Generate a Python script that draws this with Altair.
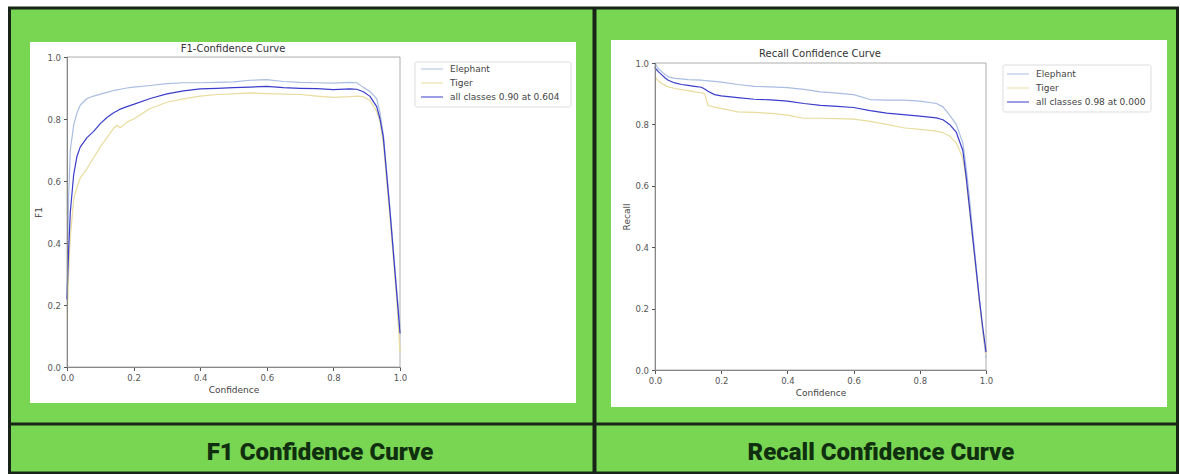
import altair as alt
import pandas as pd

# ---------------- data ----------------
conf = [0.0, 0.005, 0.01, 0.02, 0.03, 0.04, 0.06, 0.08, 0.10, 0.12, 0.14, 0.15, 0.16, 0.18, 0.20,
        0.25, 0.30, 0.35, 0.40, 0.45, 0.50, 0.55, 0.60, 0.65, 0.70, 0.75, 0.80, 0.85, 0.87, 0.89,
        0.91, 0.93, 0.94, 0.95, 0.96, 0.97, 0.98, 0.99, 1.0]

f1_elephant = [0.25, 0.55, 0.70, 0.78, 0.82, 0.845, 0.866, 0.874, 0.880, 0.886, 0.892, 0.894, 0.896,
               0.900, 0.903, 0.908, 0.914, 0.917, 0.917, 0.918, 0.920, 0.925, 0.927, 0.921, 0.918,
               0.917, 0.916, 0.918, 0.917, 0.902, 0.889, 0.865, 0.82, 0.75, 0.63, 0.51, 0.38, 0.25, 0.13]
f1_tiger = [0.15, 0.30, 0.42, 0.54, 0.58, 0.61, 0.64, 0.675, 0.71, 0.74, 0.77, 0.78, 0.772, 0.79,
            0.80, 0.834, 0.854, 0.865, 0.874, 0.879, 0.881, 0.884, 0.882, 0.880, 0.879, 0.874, 0.870,
            0.872, 0.874, 0.872, 0.86, 0.825, 0.79, 0.72, 0.60, 0.48, 0.35, 0.22, 0.05]
f1_all = [0.22, 0.38, 0.50, 0.62, 0.68, 0.71, 0.74, 0.76, 0.785, 0.805, 0.82, 0.826, 0.832, 0.84,
          0.847, 0.866, 0.881, 0.891, 0.897, 0.899, 0.901, 0.903, 0.905, 0.901, 0.899, 0.898, 0.895,
          0.897, 0.896, 0.888, 0.873, 0.84, 0.80, 0.74, 0.62, 0.50, 0.37, 0.24, 0.11]

rec_elephant = [1.0, 0.99, 0.982, 0.972, 0.963, 0.955, 0.95, 0.948, 0.946, 0.945, 0.944, 0.943, 0.942,
                0.94, 0.938, 0.93, 0.924, 0.922, 0.92, 0.914, 0.906, 0.902, 0.897, 0.881, 0.879, 0.879,
                0.876, 0.868, 0.857, 0.83, 0.80, 0.74, 0.66, 0.56, 0.45, 0.34, 0.23, 0.13, 0.04]
rec_tiger = [0.955, 0.948, 0.942, 0.933, 0.928, 0.922, 0.917, 0.913, 0.91, 0.906, 0.903, 0.9, 0.862,
             0.856, 0.852, 0.841, 0.839, 0.836, 0.83, 0.82, 0.82, 0.819, 0.817, 0.81, 0.80, 0.789,
             0.784, 0.778, 0.773, 0.762, 0.74, 0.69, 0.62, 0.52, 0.42, 0.32, 0.22, 0.13, 0.05]
rec_all = [0.985, 0.978, 0.972, 0.962, 0.952, 0.944, 0.935, 0.93, 0.927, 0.924, 0.921, 0.915, 0.908,
           0.897, 0.893, 0.887, 0.882, 0.880, 0.876, 0.868, 0.862, 0.859, 0.855, 0.845, 0.837, 0.832,
           0.827, 0.821, 0.815, 0.800, 0.775, 0.715, 0.63, 0.53, 0.43, 0.33, 0.23, 0.14, 0.06]

f1_labels = ["Elephant", "Tiger", "all classes 0.90 at 0.604"]
rec_labels = ["Elephant", "Tiger", "all classes 0.98 at 0.000"]
tick_values = [0.0, 0.2, 0.4, 0.6, 0.8, 1.0]
plot_titles = ["F1-Confidence Curve", "Recall Confidence Curve"]
y_titles = ["F1", "Recall"]
x_title = "Confidence"
band_titles = ["F1 Confidence Curve", "Recall Confidence Curve"]

# ---------------- styles ----------------
W, H = 1180, 474
GREEN = "#79d653"
DARK = "#172417"
line_colors = ["#a9bde2", "#e9dc9e", "#3a3dca"]
line_widths = [1.2, 1.2, 3.2]
FONT = "DejaVu Sans"

one = pd.DataFrame({"k": [0]})


def rect(x, x2, y, y2, **kw):
    return alt.Chart(one).mark_rect(**kw).encode(
        x=alt.value(x), x2=alt.value(x2), y=alt.value(y), y2=alt.value(y2))


def rule(x, x2, y, y2, **kw):
    return alt.Chart(one).mark_rule(**kw).encode(
        x=alt.value(x), x2=alt.value(x2), y=alt.value(y), y2=alt.value(y2))


def label(text, x, y, **kw):
    return alt.Chart(one).mark_text(text=text, align="center", baseline="middle", **kw).encode(
        x=alt.value(x), y=alt.value(y))


def long_df(series, labels):
    rows = []
    for lab, vals in zip(labels, series):
        for c, v in zip(conf, vals):
            rows.append({"conf": c, "val": v, "cls": lab})
    return pd.DataFrame(rows)


def panel_lines(series, labels, xr, yr, ytitle, lx, ly, ytitle_pad):
    df = long_df(series, labels)
    leg = alt.Legend(title=None, orient="none", legendX=lx, legendY=ly,
                     labelFont=FONT, labelFontSize=9, labelColor="#444",
                     symbolType="stroke", symbolSize=480, symbolOffset=0,
                     clipHeight=13, padding=4, rowPadding=1, labelOffset=6, labelLimit=400)
    axis_common = dict(format=".1f", values=tick_values, zindex=1, grid=False,
                       labelFont=FONT, labelFontSize=8.5, labelColor="#555",
                       titleFont=FONT, titleFontSize=9, titleColor="#444", titleFontWeight="normal",
                       tickColor="#555", tickSize=3.5, domainColor="#888", domainWidth=1,
                       labelFlush=False, labelOverlap=False)
    return alt.Chart(df).mark_line(strokeJoin="round", strokeCap="round").encode(
        x=alt.X("conf:Q",
                scale=alt.Scale(domain=[0, 1], range=xr, nice=False, zero=False),
                axis=alt.Axis(title=x_title, orient="bottom", offset=yr[0] - H, labelPadding=3,
                              titlePadding=3, **axis_common)),
        y=alt.Y("val:Q",
                scale=alt.Scale(domain=[0, 1], range=yr, nice=False, zero=False),
                axis=alt.Axis(title=ytitle, orient="left", offset=-xr[0], labelPadding=3,
                              titlePadding=ytitle_pad, **axis_common)),
        color=alt.Color("cls:N", scale=alt.Scale(domain=labels, range=line_colors), legend=leg),
        strokeWidth=alt.StrokeWidth("cls:N", scale=alt.Scale(domain=labels, range=line_widths),
                                    legend=leg),
    )


# panel geometry (pixels)
L_X, L_Y = [67, 400], [367, 57]
R_X, R_Y = [655, 986], [370, 63]

layers = [
    rect(9.5, 1177.5, 8, 473, fill=GREEN, stroke=DARK, strokeWidth=3),
    rect(30, 576, 42, 403, fill="white"),
    rect(611, 1167, 40, 407, fill="white"),
    rule(594.5, 594.5, 8, 473, color=DARK, strokeWidth=4),
    rule(9.5, 1177.5, 424, 424, color=DARK, strokeWidth=3),
    rect(L_X[0], L_X[1], L_Y[1], L_Y[0], fill=None, stroke="#999", strokeWidth=0.8),
    rect(R_X[0], R_X[1], R_Y[1], R_Y[0], fill=None, stroke="#999", strokeWidth=0.8),
    # legend frames (matplotlib style)
    rect(415, 571, 62, 107, fill="white", stroke="#dddddd", strokeWidth=1, cornerRadius=2),
    rect(1003, 1151, 65, 112, fill="white", stroke="#dddddd", strokeWidth=1, cornerRadius=2),
    label(plot_titles[0], 233, 49, font=FONT, fontSize=10, color="#333"),
    label(plot_titles[1], 820, 54, font=FONT, fontSize=10, color="#333"),
    label(band_titles[0], 320, 453, font="Roboto", fontSize=24, fontWeight=900, color="#0f2f0f"),
    label(band_titles[1], 881, 453, font="Roboto", fontSize=24, fontWeight=900, color="#0f2f0f"),
    panel_lines([f1_elephant, f1_tiger, f1_all], f1_labels, L_X, L_Y, y_titles[0], 416, 58.5, 3),
    panel_lines([rec_elephant, rec_tiger, rec_all], rec_labels, R_X, R_Y, y_titles[1], 1002, 63.5, 3),
]

chart = alt.layer(*layers).resolve_scale(
    x="independent", y="independent", color="independent", strokeWidth="independent"
).resolve_axis(x="independent", y="independent").resolve_legend(
    color="independent", strokeWidth="independent"
).properties(
    width=W, height=H, padding=0, background="white",
    autosize=alt.AutoSizeParams(type="none"),
).configure_view(stroke=None)

chart.save("out.html", embed_options={"renderer": "svg", "actions": False})
